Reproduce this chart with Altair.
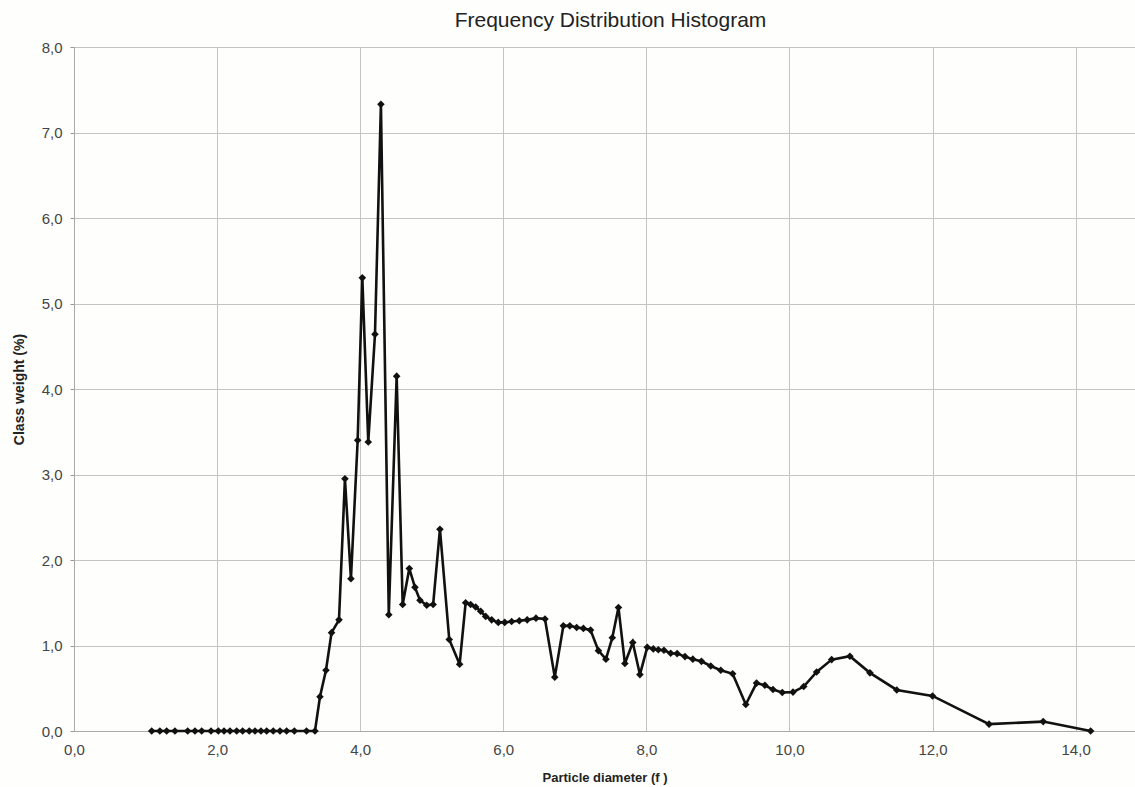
import altair as alt
import pandas as pd

diameter = [1.086, 1.2, 1.295, 1.411, 1.589, 1.691, 1.785, 1.915, 2.017, 2.097, 2.18,
            2.274, 2.357, 2.45, 2.53, 2.613, 2.693, 2.785, 2.879, 2.972, 3.08, 3.25, 3.368,
            3.438, 3.522, 3.60, 3.704, 3.787, 3.871, 3.965, 4.03, 4.113, 4.207, 4.29, 4.40,
            4.51, 4.594, 4.687, 4.766, 4.836, 4.93, 5.02, 5.115, 5.245, 5.39, 5.474, 5.544,
            5.614, 5.684, 5.754, 5.838, 5.93, 6.02, 6.117, 6.224, 6.335, 6.457, 6.583, 6.72,
            6.84, 6.93, 7.026, 7.12, 7.22, 7.33, 7.435, 7.524, 7.61, 7.70, 7.81, 7.91, 8.013,
            8.097, 8.167, 8.246, 8.34, 8.43, 8.54, 8.65, 8.77, 8.90, 9.04, 9.206, 9.39, 9.54,
            9.657, 9.77, 9.90, 10.05, 10.20, 10.38, 10.59, 10.845, 11.125, 11.50, 12.0, 12.79,
            13.547, 14.21]
weight = [0, 0, 0, 0, 0, 0, 0, 0, 0, 0, 0,
          0, 0, 0, 0, 0, 0, 0, 0, 0, 0, 0, 0,
          0.40, 0.71, 1.15, 1.30, 2.95, 1.78, 3.40, 5.30, 3.38, 4.64, 7.33, 1.36,
          4.15, 1.48, 1.90, 1.68, 1.53, 1.47, 1.48, 2.36, 1.07, 0.78, 1.50, 1.48,
          1.45, 1.40, 1.34, 1.30, 1.27, 1.27, 1.28, 1.29, 1.30, 1.32, 1.31, 0.63,
          1.23, 1.23, 1.21, 1.20, 1.18, 0.94, 0.84, 1.09, 1.445, 0.79, 1.035, 0.66, 0.98,
          0.96, 0.95, 0.945, 0.91, 0.905, 0.87, 0.84, 0.815, 0.76, 0.71, 0.67, 0.31, 0.56,
          0.535, 0.485, 0.45, 0.455, 0.52, 0.69, 0.835, 0.875, 0.68, 0.48, 0.41, 0.08,
          0.11, 0.0]
x_ticks = [0, 2, 4, 6, 8, 10, 12, 14]
y_ticks = [0, 1, 2, 3, 4, 5, 6, 7, 8]

df = pd.DataFrame({"d": diameter, "w": weight, "i": list(range(len(diameter)))})

font = "Liberation Sans"
label_expr = "replace(format(datum.value, '.1f'), '.', ',')"

x_enc = alt.X("d:Q", scale=alt.Scale(domain=[0, 14.83], nice=False, zero=False),
              axis=alt.Axis(values=x_ticks, title="Particle diameter (f )", labelExpr=label_expr,
                            ticks=False, labelPadding=11, titlePadding=14,
                            labelFontSize=15, titleFontSize=13, titleFontWeight="bold",
                            labelColor="#444", titleColor="#222", labelFont=font, titleFont=font,
                            domainColor="#aaa", gridColor="#c4c4c4", labelFlush=False))
y_enc = alt.Y("w:Q", scale=alt.Scale(domain=[0, 8], nice=False),
              axis=alt.Axis(values=y_ticks, title="Class weight (%)", labelExpr=label_expr,
                            tickSize=4, tickColor="#999", labelPadding=8, titlePadding=15,
                            labelFontSize=15, titleFontSize=14, titleFontWeight="bold",
                            labelColor="#444", titleColor="#222", labelFont=font, titleFont=font,
                            domainColor="#aaa", gridColor="#c4c4c4"))

line = alt.Chart(df).mark_line(color="#111", strokeWidth=2.6).encode(
    x=x_enc, y=y_enc, order="i:Q")
pts = alt.Chart(df).mark_point(shape="diamond", filled=True, color="#111", size=58, opacity=1).encode(
    x=x_enc, y=y_enc)

chart = (line + pts).properties(
    width=1061, height=684,
    title=alt.TitleParams("Frequency Distribution Histogram", font=font, fontSize=21,
                          fontWeight="normal", color="#222", anchor="middle", offset=9, dx=6),
    autosize=alt.AutoSizeParams(type="none"),
    padding={"left": 74, "top": 47, "right": 0, "bottom": 56},
    background="#fefefd",
).configure_view(stroke=None)

chart.save("out.html", embed_options={"renderer": "svg", "actions": False})
